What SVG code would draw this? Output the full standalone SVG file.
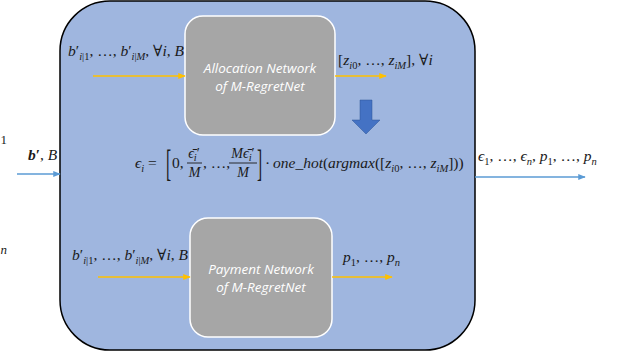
<svg xmlns="http://www.w3.org/2000/svg" width="617" height="358" viewBox="0 0 617 358">
<defs>
<style>
text.m{font-family:"Liberation Serif","DejaVu Serif",serif;font-size:15.5px;fill:#1a1a1a}
.i{font-style:italic}
.s{font-size:10.5px}
.net{font-family:"Open Sans","Noto Sans",sans-serif;font-style:italic;font-size:13.5px;fill:#ffffff}
.box{fill:#a6a6a6;stroke:#ffffff;stroke-width:1.5}
.y{stroke:#ffc000;stroke-width:1.5;fill:none}
.b{stroke:#5b9bd5;stroke-width:1.5;fill:none}
</style>
<marker id="ay" viewBox="0 0 10 10" refX="9" refY="5" markerWidth="5" markerHeight="5" orient="auto"><path d="M0,1 L10,5 L0,9 z" fill="#ffc000"/></marker>
<marker id="ab" viewBox="0 0 10 10" refX="9" refY="5" markerWidth="5" markerHeight="5" orient="auto"><path d="M0,1 L10,5 L0,9 z" fill="#5b9bd5"/></marker>
</defs>
<rect width="617" height="358" fill="#ffffff"/>

<g id="container">
<rect x="60" y="1" width="415" height="349" rx="50" ry="50" fill="#9fb6df" stroke="#000000" stroke-width="1.5"/>
</g>

<g id="allocation">
<rect class="box" x="185" y="16" width="150" height="119" rx="18" ry="18"/>
<text class="net" x="260" y="73" text-anchor="middle">Allocation Network</text>
<text class="net" x="260" y="91" text-anchor="middle">of M-RegretNet</text>
</g>

<g id="payment">
<rect class="box" x="190" y="218" width="142" height="119" rx="18" ry="18"/>
<text class="net" x="261" y="274" text-anchor="middle">Payment Network</text>
<text class="net" x="261" y="292" text-anchor="middle">of M-RegretNet</text>
</g>

<g id="downarrow">
<polygon points="360,100 372,100 372,120 380,120 366,134 352,120 360,120" fill="#4472c4" stroke="#2f5597" stroke-width="0.5"/>
</g>

<g id="connectors">
<line class="y" x1="93" y1="76" x2="185" y2="76" marker-end="url(#ay)"/>
<line class="y" x1="335" y1="76" x2="386" y2="76" marker-end="url(#ay)"/>
<line class="y" x1="98" y1="277" x2="190" y2="277" marker-end="url(#ay)"/>
<line class="y" x1="332" y1="277" x2="392" y2="277" marker-end="url(#ay)"/>
<line class="b" x1="17" y1="174" x2="60" y2="174" marker-end="url(#ab)"/>
<line class="b" x1="475" y1="177" x2="585" y2="177" marker-end="url(#ab)"/>
</g>

<g id="labels">
<text class="m" x="0.5" y="144" style="font-size:13px">1</text>
<text class="m i" x="0.5" y="254" style="font-size:13px">n</text>

<text class="m" x="68" y="56"><tspan class="i">b</tspan><tspan>′</tspan><tspan class="s i" dy="4">i</tspan><tspan class="s">|1</tspan><tspan dy="-4">, …, </tspan><tspan class="i">b</tspan><tspan>′</tspan><tspan class="s i" dy="4">i</tspan><tspan class="s">|</tspan><tspan class="s i">M</tspan><tspan dy="-4">, ∀</tspan><tspan class="i">i</tspan><tspan>, </tspan><tspan class="i">B</tspan></text>

<text class="m" x="72" y="260"><tspan class="i">b</tspan><tspan>′</tspan><tspan class="s i" dy="4">i</tspan><tspan class="s">|1</tspan><tspan dy="-4">, …, </tspan><tspan class="i">b</tspan><tspan>′</tspan><tspan class="s i" dy="4">i</tspan><tspan class="s">|</tspan><tspan class="s i">M</tspan><tspan dy="-4">, ∀</tspan><tspan class="i">i</tspan><tspan>, </tspan><tspan class="i">B</tspan></text>

<text class="m" x="338" y="65"><tspan>[</tspan><tspan class="i">z</tspan><tspan class="s i" dy="4">i</tspan><tspan class="s">0</tspan><tspan dy="-4">, …, </tspan><tspan class="i">z</tspan><tspan class="s i" dy="4">iM</tspan><tspan dy="-4">], ∀</tspan><tspan class="i">i</tspan></text>

<text class="m" x="28" y="160"><tspan class="i" font-weight="bold">b</tspan><tspan font-weight="bold">′</tspan><tspan>, </tspan><tspan class="i">B</tspan></text>

<text class="m" x="478" y="161"><tspan class="i">ϵ</tspan><tspan class="s" dy="4">1</tspan><tspan dy="-4">, …, </tspan><tspan class="i">ϵ</tspan><tspan class="s i" dy="4">n</tspan><tspan dy="-4">, </tspan><tspan class="i">p</tspan><tspan class="s" dy="4">1</tspan><tspan dy="-4">, …, </tspan><tspan class="i">p</tspan><tspan class="s i" dy="4">n</tspan></text>

<text class="m" x="343" y="262"><tspan class="i">p</tspan><tspan class="s" dy="4">1</tspan><tspan dy="-4">, …, </tspan><tspan class="i">p</tspan><tspan class="s i" dy="4">n</tspan></text>
</g>

<g id="formula">
<text class="m" x="135" y="168"><tspan class="i">ϵ</tspan><tspan class="s i" dy="4">i</tspan><tspan dy="-4"> =</tspan></text>
<text class="m" transform="translate(166,176) scale(1,2.4)">[</text>
<text class="m" x="172" y="168">0,</text>
<text class="m" x="194" y="158" text-anchor="middle" style="font-size:14px"><tspan class="i">ϵ̄</tspan><tspan class="s i" dy="3">i</tspan><tspan dy="-3">′</tspan></text>
<line x1="187" y1="163" x2="202" y2="163" stroke="#1a1a1a" stroke-width="0.9"/>
<text class="m i" x="194.5" y="177" text-anchor="middle" style="font-size:14px">M</text>
<text class="m" x="203" y="168">, …, </text>
<text class="m" x="243" y="158" text-anchor="middle" style="font-size:14px"><tspan class="i">Mϵ̄</tspan><tspan class="s i" dy="3">i</tspan><tspan dy="-3">′</tspan></text>
<line x1="229" y1="163" x2="257" y2="163" stroke="#1a1a1a" stroke-width="0.9"/>
<text class="m i" x="243" y="177" text-anchor="middle" style="font-size:14px">M</text>
<text class="m" transform="translate(257,176) scale(1,2.4)">]</text>
<text class="m" x="265" y="168">·</text>
<text class="m" x="273" y="168"><tspan class="i">one_hot</tspan><tspan>(</tspan><tspan class="i">argmax</tspan><tspan>([</tspan><tspan class="i">z</tspan><tspan class="s i" dy="4">i</tspan><tspan class="s">0</tspan><tspan dy="-4">, …, </tspan><tspan class="i">z</tspan><tspan class="s i" dy="4">iM</tspan><tspan dy="-4">]))</tspan></text>
</g>
</svg>
